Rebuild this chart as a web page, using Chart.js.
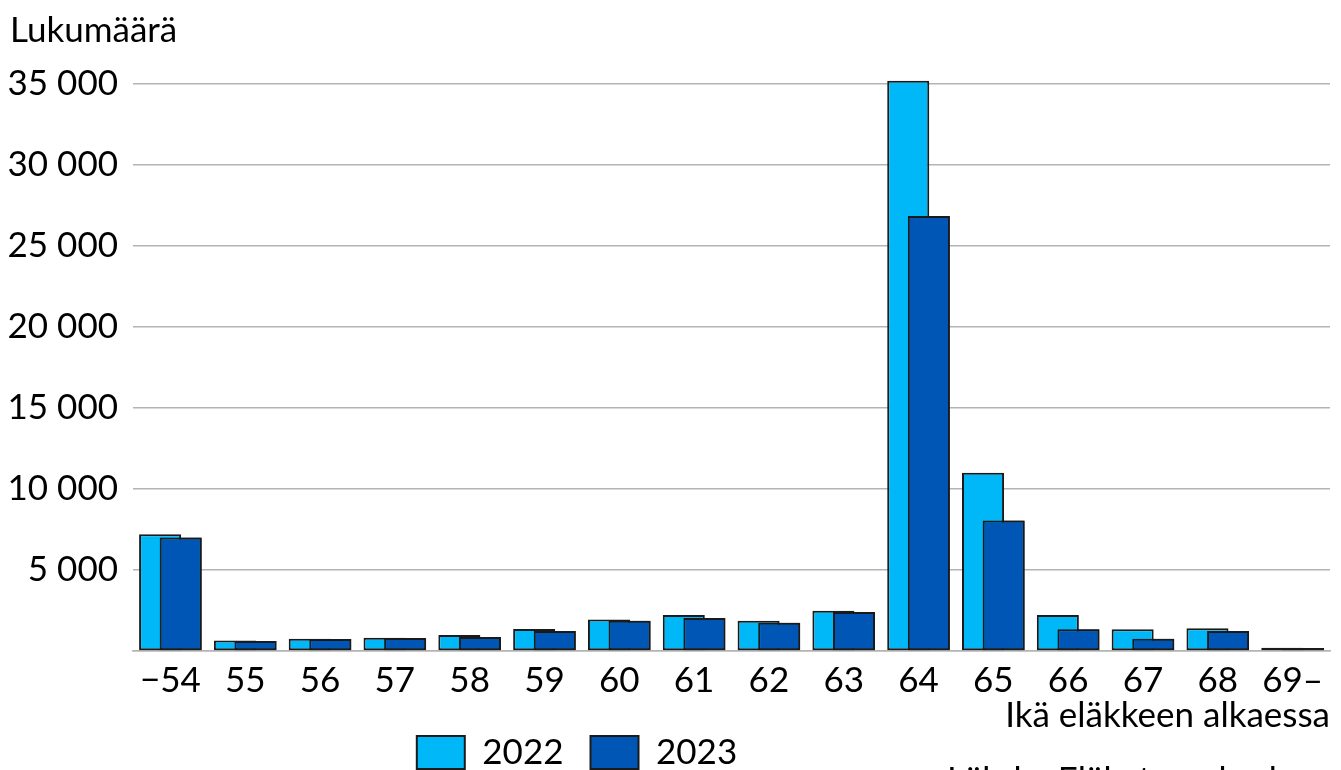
<!DOCTYPE html>
<html lang="fi">
<head>
<meta charset="utf-8">
<script src="https://cdn.jsdelivr.net/npm/chart.js@4.4.1/dist/chart.umd.min.js"></script>
<style>
  html, body { margin: 0; padding: 0; background: #fff; overflow: hidden; }
  #wrap { width: 1341px; height: 809px; }
</style>
</head>
<body>
<div id="wrap"><canvas id="chart"></canvas></div>
<script>
// ── DATA ───────────────────────────────────────
const ages     = ['\u221254', '55', '56', '57', '58', '59', '60', '61', '62', '63', '64', '65', '66', '67', '68', '69\u2013'];
const vals2022 = [7200, 650, 760, 820, 990, 1360, 1950, 2220, 1870, 2490, 35200, 11000, 2220, 1340, 1400, 200];
const vals2023 = [7000, 620, 740, 800, 860, 1240, 1870, 2040, 1750, 2410, 26850, 8050, 1340, 760, 1230, 180];
const yTicks   = [0, 5000, 10000, 15000, 20000, 25000, 30000, 35000];

const FONT = 'Lato, "Open Sans", sans-serif';
const fmtNum = v => v === 0 ? '' : String(v).replace(/\B(?=(\d{3})+(?!\d))/g, ' ');

// ── TEKSTIT (otsikko + lähde) ──────────────────
const extraText = {
  id: 'extraText',
  afterDraw(chart) {
    const ctx = chart.ctx;
    ctx.save();
    ctx.fillStyle = '#000';
    ctx.font = `35px ${FONT}`;
    ctx.textBaseline = 'alphabetic';
    ctx.textAlign = 'left';
    ctx.fillText('Lukumäärä', 10, 42);
    ctx.fillText('Lähde: Eläketurvakeskus', 947, 792);
    ctx.restore();
  }
};

// 2023-pylväät piirretään 2022:n päälle
const redraw2023 = {
  id: 'redraw2023',
  afterDatasetsDraw(chart) {
    const meta = chart.getDatasetMeta(1);
    if (meta.visible) meta.controller.draw();
  }
};

// legenda vasemmalle ja ylös kuten alkuperäisessä
const shiftLegend = {
  id: 'shiftLegend',
  afterLayout(chart) {
    const lg = chart.legend;
    if (!lg) return;
    lg.left -= 88; lg.right -= 88;
    lg.top -= 29; lg.bottom -= 29;
  }
};

new Chart(document.getElementById('chart'), {
  type: 'bar',
  data: {
    labels: ages,
    datasets: [
      {
        label: '2022',
        data: vals2022,
        backgroundColor: '#00B8F8',
        borderColor: '#1a1a1a',
        borderWidth: 2,
        borderSkipped: false,
        clip: false
      },
      {
        label: '2023',
        data: vals2023,
        backgroundColor: '#0056B4',
        borderColor: '#1a1a1a',
        borderWidth: 2,
        borderSkipped: false,
        clip: false
      }
    ]
  },
  options: {
    responsive: true,
    maintainAspectRatio: false,
    animation: false,
    categoryPercentage: 0.551,
    barPercentage: 2.04,
    layout: { padding: { top: 84, right: 11, left: 0, bottom: 0 } },
    plugins: {
      tooltip: { enabled: false },
      legend: {
        position: 'bottom',
        labels: {
          color: '#000',
          font: { family: FONT, size: 35 },
          boxWidth: 48, boxHeight: 33,
          padding: 27
        }
      }
    },
    scales: {
      x: {
        afterFit(scale) { scale.height = 86; },
        grid: { display: false },
        border: { color: '#b4b4b4', width: 1.5 },
        ticks: { color: '#000', font: { family: FONT, size: 35 }, padding: 1, autoSkip: false, maxRotation: 0 },
        title: {
          display: true, text: 'Ikä eläkkeen alkaessa', align: 'end',
          color: '#000', font: { family: FONT, size: 35 }, padding: { top: 0, bottom: 0 }
        }
      },
      y: {
        min: 0, max: 35000,
        afterFit(scale) { scale.width = 133; },
        afterBuildTicks(scale) { scale.ticks = yTicks.map(v => ({ value: v })); },
        grid: { color: '#b4b4b4', lineWidth: 1.5, drawTicks: false },
        border: { display: false },
        ticks: { color: '#000', font: { family: FONT, size: 35 }, padding: 15, callback: v => fmtNum(v) }
      }
    }
  },
  plugins: [extraText, redraw2023, shiftLegend]
});
</script>
</body>
</html>
